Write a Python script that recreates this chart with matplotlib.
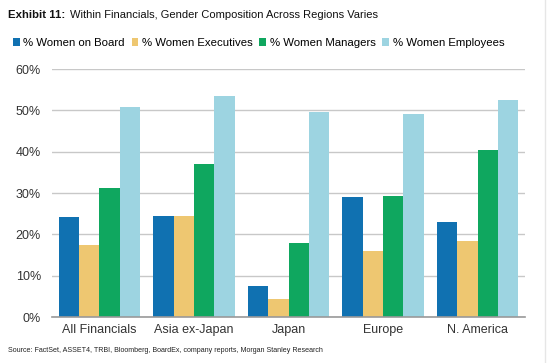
import numpy as np
import matplotlib.pyplot as plt
from matplotlib.ticker import FuncFormatter
from matplotlib.lines import Line2D

# donnees (%)
regions = ["All Financials", "Asia ex-Japan", "Japan", "Europe", "N. America"]
series = ["% Women on Board", "% Women Executives", "% Women Managers", "% Women Employees"]
board = [24.2, 24.5, 7.4, 29.1, 22.9]
executives = [17.3, 24.4, 4.4, 16.0, 18.3]
managers = [31.2, 37.1, 17.8, 29.3, 40.5]
employees = [50.7, 53.5, 49.6, 49.1, 52.5]

couleurs = ["#1071B1", "#EEC771", "#0FA75F", "#9DD4E1"]

plt.rcParams['font.family'] = ['Liberation Sans', 'DejaVu Sans']

fig = plt.figure(figsize=(5.58, 3.63), dpi=100)
ax = fig.add_axes([52/558, 1 - 317/363, 473/558, 248/363])

x = np.arange(len(regions))
w = 0.215
valeurs = [board, executives, managers, employees]
for i, (nom, v) in enumerate(zip(series, valeurs)):
    ax.bar(x + (i - 1.5) * w, v, width=w, color=couleurs[i], label=nom, zorder=2)

ax.set_xlim(-0.5, 4.5)
ax.set_ylim(0, 60)
ax.set_yticks(range(0, 61, 10))
ax.yaxis.set_major_formatter(FuncFormatter(lambda v, p: f"{v:.0f}%"))
ax.set_xticks(x)
ax.set_xticklabels(regions)
ax.tick_params(axis='both', length=0, labelsize=9, colors="#333333")
ax.tick_params(axis='y', pad=8)
ax.tick_params(axis='x', pad=5)
ax.grid(axis='y', color="#C8C8C8", linewidth=1, zorder=0)
for s in ["top", "right", "left"]:
    ax.spines[s].set_visible(False)
ax.spines["bottom"].set_color("#999999")
ax.spines["bottom"].set_linewidth(1.2)

# legende en haut
fig.legend(loc="center left", bbox_to_anchor=(13/558, 1 - 43/363), ncol=4, frameon=False,
           fontsize=8.2, handlelength=0.6, handleheight=0.6, handletextpad=0.3,
           columnspacing=0.6, borderaxespad=0, borderpad=0)

# titre : partie en gras puis partie normale
t1 = fig.text(8/558, 1 - 15/363, "Exhibit 11:", fontsize=8.2, fontweight="bold",
              va="center", ha="left", color="#111111")
fig.canvas.draw()
bb = t1.get_window_extent()
fig.text((bb.x1 + 5) / 558, 1 - 15/363,
         "Within Financials, Gender Composition Across Regions Varies",
         fontsize=8.0, va="center", ha="left", color="#111111")

fig.text(8/558, 1 - 350/363,
         "Source: FactSet, ASSET4, TRBI, Bloomberg, BoardEx, company reports, Morgan Stanley Research",
         fontsize=5.1, va="center", ha="left", color="#222222")

# bord droit clair de l'image d'origine
fig.add_artist(Line2D([545/558, 545/558], [0, 1], color="#E6E6E6", linewidth=1))

plt.savefig("out.png", dpi=100)
plt.close()
